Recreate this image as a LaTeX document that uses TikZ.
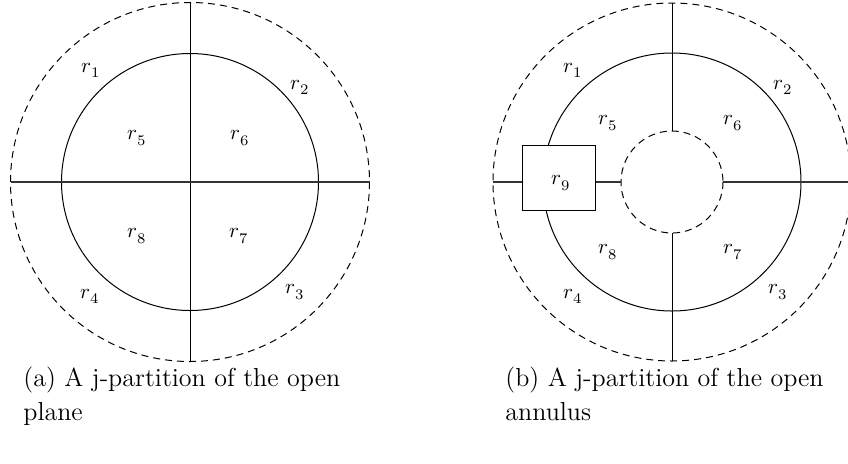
\documentclass[tikz,border=0pt]{standalone}
\usepackage{unicode-math}
\tikzset{
  px/.style={x=0.5pt,y=-0.5pt},
  solidline/.style={line width=0.5pt,black},
  hline/.style={line width=0.7pt,black!80},
  dashline/.style={line width=0.5pt,black,dash pattern=on 3.5pt off 2.5pt},
  lab/.style={inner sep=0pt,font=\fontsize{10.5}{12}\selectfont},
  captext/.style={inner sep=0pt,anchor=base west,align=left,font=\fontsize{13}{17}\selectfont},
  boxnode/.style={draw,fill=white,line width=0.5pt,minimum width=36.5pt,minimum height=32.5pt,inner sep=0pt}
}
\begin{document}
\begin{tikzpicture}[px]
\useasboundingbox (0,0) rectangle (848,463);
% ---------- (a) open plane ----------
\coordinate (ca) at (190,182);
\draw[dashline] (ca) circle[radius=179.5];
\draw[solidline] (ca) circle[radius=128.5];
\coordinate (at) at (190,2.5);
\coordinate (ab) at (190,361.5);
\coordinate (al) at (10.5,182);
\coordinate (ar) at (369.5,182);
\draw[solidline] (at) -- (ab);
\draw[hline] (al) -- (ar);
\node[lab] (a1) at (91,70) {$r_1$};
\node[lab] (a2) at (300,87) {$r_2$};
\node[lab] (a3) at (295,292) {$r_3$};
\node[lab] (a4) at (90,296) {$r_4$};
\node[lab] (a5) at (137,138) {$r_5$};
\node[lab] (a6) at (240,138) {$r_6$};
\node[lab] (a7) at (239,236) {$r_7$};
\node[lab] (a8) at (137,236) {$r_8$};
% ---------- (b) open annulus ----------
\coordinate (cb) at (672,182);
\draw[dashline] (cb) circle[radius=179];
\draw[solidline] (cb) circle[radius=129];
\draw[dashline] (cb) circle[radius=51];
\coordinate (bt) at (672,3);
\coordinate (bti) at (672,131);
\coordinate (bb) at (672,361);
\coordinate (bbi) at (672,233);
\coordinate (br) at (848,182);
\coordinate (bri) at (723,182);
\coordinate (bl) at (493,182);
\coordinate (bli) at (621,182);
\draw[solidline] (bt) -- (bti);
\draw[solidline] (bbi) -- (bb);
\draw[hline] (bri) -- (br);
\node[boxnode] (box) at (558.5,177.5) {};
\draw[hline] (bl) -- (box.west |- bl);
\draw[hline] (box.east |- bli) -- (bli);
\node[lab] (b9) at (561,183) {$r_9$};
\node[lab] (b1) at (573,70) {$r_1$};
\node[lab] (b2) at (783,87) {$r_2$};
\node[lab] (b3) at (778,292) {$r_3$};
\node[lab] (b4) at (573,296) {$r_4$};
\node[lab] (b5) at (608,123) {$r_5$};
\node[lab] (b6) at (733,123) {$r_6$};
\node[lab] (b7) at (733,252) {$r_7$};
\node[lab] (b8) at (608,252) {$r_8$};
% ---------- captions ----------
\node[captext] (capa) at (23,420) {(a) A j-partition of the open\\plane};
\node[captext] (capb) at (505,420) {(b) A j-partition of the open\\annulus};
\end{tikzpicture}
\end{document}
